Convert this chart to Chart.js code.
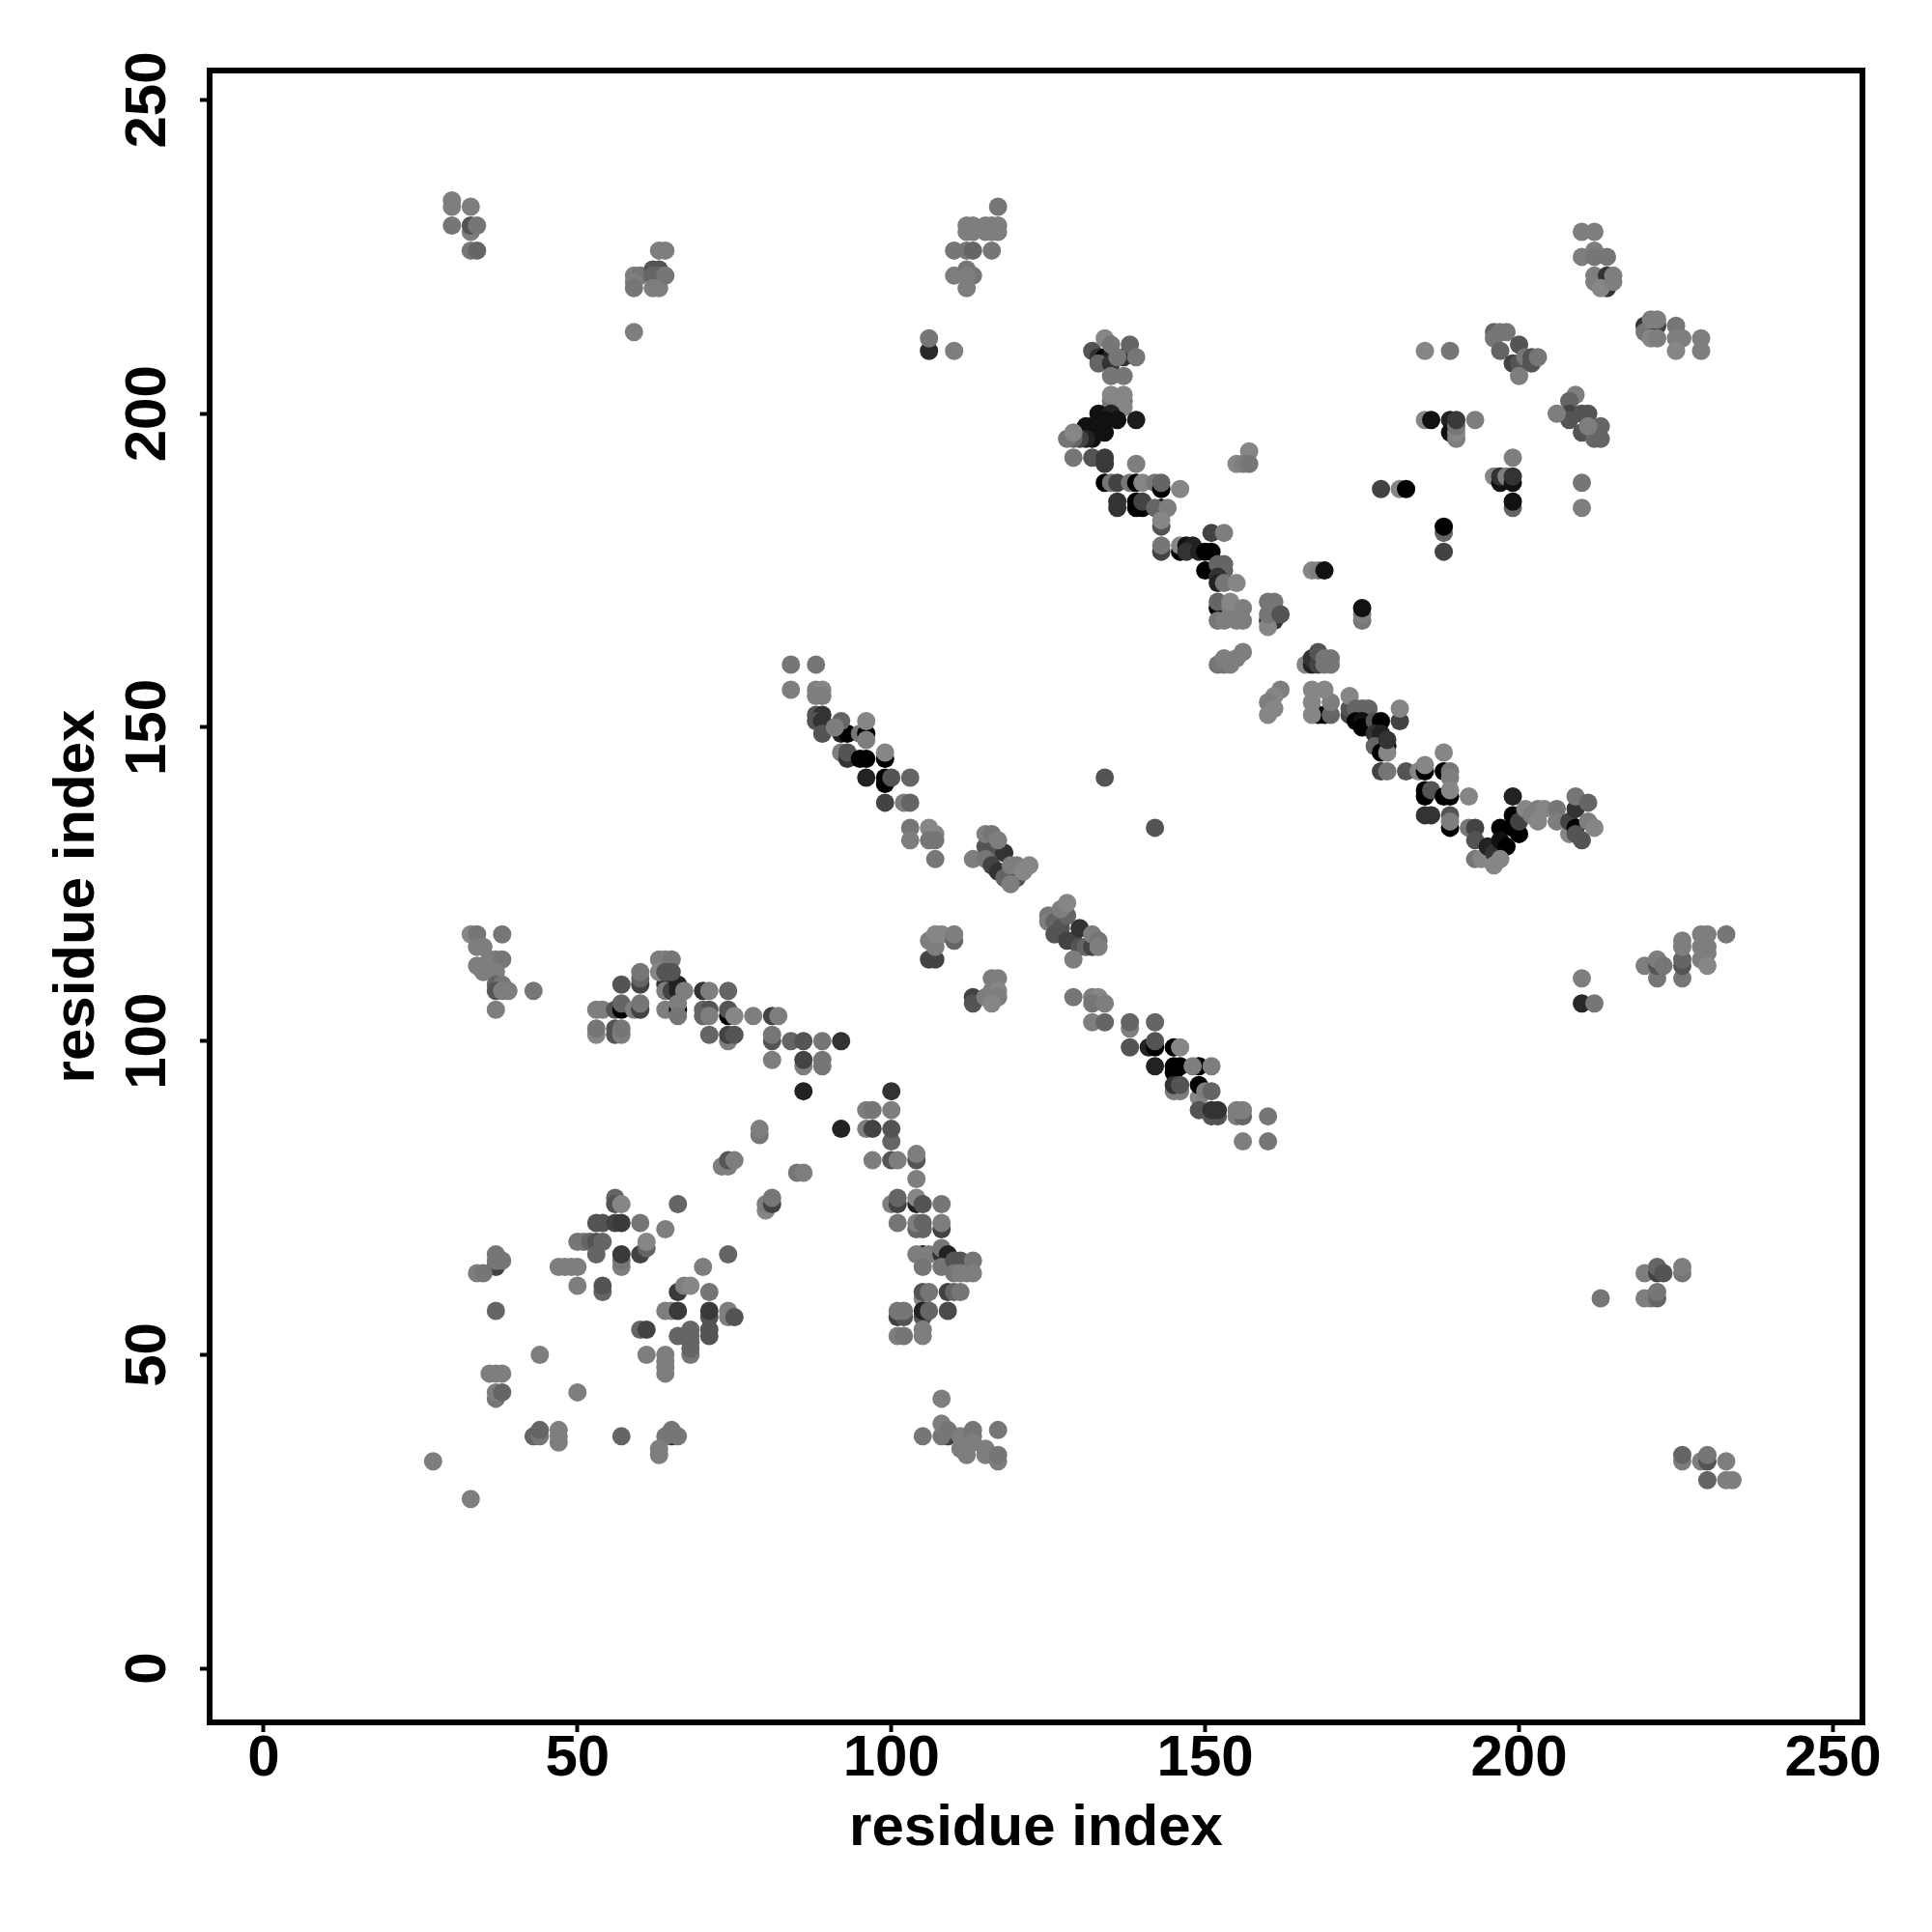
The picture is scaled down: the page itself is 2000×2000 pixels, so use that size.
<!DOCTYPE html>
<html>
<head>
<meta charset="utf-8">
<title>residue contacts</title>
<script src="https://cdn.jsdelivr.net/npm/chart.js@4"></script>
<style>
  html, body { margin: 0; padding: 0; background: #fff; }
  canvas { display: block; }
</style>
</head>
<body>
<canvas id="chart" width="2000" height="2000"></canvas>
<script>
// every contact is [residue x, residue y, strength 0-100]
const tickValues = [0, 50, 100, 150, 200, 250];
const axisTitle = 'residue index';

const topLeftContacts = [
  [30,234,6],[30,233,6],[33,233,6],[30,230,12],[33,229,6],[33,230,37],[34,230,12],[33,226,12],[34,226,25],
  [63,226,6],[64,226,6],[59,222,6],[60,222,12],[59,221,6],[59,220,12],[62,223,37],[63,223,37],[62,222,25],
  [63,222,25],[62,220,6],[63,220,6],[64,222,12],[59,213,6],
  [106,210,70],[106,212,12],[110,210,6],
  [117,233,12],[112,230,6],[113,230,6],[115,230,6],[116,230,6],[117,230,6],[112,229,6],[113,229,6],
  [115,229,6],[116,229,6],[117,229,6],[110,226,12],[112,226,12],[113,226,25],[116,226,12],[110,222,6],
  [112,223,12],[113,222,12],[112,222,6],[112,220,6]
];

const upperBandContacts = [
  [132,210,37],[133,209,62],[134,209,100],[135,209,75],[137,209,62],[133,208,25],[135,208,62],
  [134,212,0],[135,211,12],[138,211,25],[136,209,12],[139,209,12],[135,206,12],[137,206,12],
  [135,201,12],[137,202,12],[135,202,12],[135,203,0],[137,203,0],[137,201,0],
  [133,200,87],[135,200,75],[134,199,87],[136,199,87],[139,199,80],[131,198,87],[132,198,87],[133,198,87],
  [134,197,87],[132,196,87],[131,196,75],[130,196,50],[129,196,25],[128,196,12],[129,197,0],
  [129,193,12],[132,193,37],[134,193,57],[134,192,57],[139,192,6],
  [134,189,100],[135,189,12],[136,189,50],[138,189,12],[139,189,100],[140,189,0],[142,189,12],[143,188,100],
  [143,189,25],[146,188,0],
  [136,186,62],[136,185,62],[139,186,100],[139,185,100],[140,185,100],[140,186,50],[143,185,100],[142,185,25],[144,185,6],
  [143,182,37],[143,183,0],[143,178,50],[143,179,12],[146,178,100],[146,179,0],[147,179,87],[148,179,75],
  [147,178,62],[149,178,75],[150,178,100],[151,178,100],[150,175,100],[151,181,50],[153,181,6],
  [152,176,25],[153,176,25],[153,175,25],[152,174,62],[152,173,75],[153,173,12],[155,173,0],
  [152,169,100],[152,170,25],[154,169,6],[154,170,0],[156,169,6],[152,167,12],[153,167,6],[155,167,6],[156,167,6],
  [160,167,62],[161,167,62],[160,166,0],[160,170,12],[161,170,12],[160,168,12],[162,168,37],
  [157,194,0],[155,192,0],[156,192,6],[157,192,12],
  [167,175,0],[168,175,6],[169,175,87],[175,167,12],[175,168,6],[175,169,87],
  [178,188,50],[181,188,0],[182,188,100],[188,178,50],[188,181,25],[188,182,100],
  [185,210,0],[189,210,12],
  [185,199,0],[186,199,87],[189,199,75],[189,197,87],[190,196,6],[190,197,0],[190,198,12],[190,199,57],[193,199,6]
];

const middleBandContacts = [
  [152,160,12],[153,160,12],[154,160,6],[153,161,6],[155,161,6],[156,162,6],
  [166,160,0],[167,160,75],[167,161,62],[168,160,50],[168,162,37],[169,161,12],[170,161,12],[169,160,12],[170,160,12],
  [162,156,6],[161,155,0],[160,154,6],[161,153,0],[160,152,0],
  [168,152,100],[169,152,100],[167,152,0],[170,152,25],[167,154,0],[170,154,6],[167,156,0],[169,156,0],
  [173,152,50],[173,153,37],[173,155,0],[174,153,25],[175,153,25],[176,153,25],[174,151,100],[175,151,87],[175,150,100],
  [177,151,37],[178,151,100],[181,151,50],[181,153,0],
  [177,149,62],[178,149,75],[177,147,25],[179,147,100],[178,146,100],[179,146,0],[179,148,62],
  [178,143,50],[179,143,12],[182,143,37],[184,143,0],[185,143,100],[185,144,0],[188,146,0],
  [188,143,100],[189,143,12],[189,142,6],[185,140,100],[185,139,100],[186,140,37],[188,139,100],
  [189,139,100],[189,140,0],[192,139,0],[185,136,62],[186,136,62],[189,136,37],[189,134,100],[189,135,6],
  [192,134,12],[193,134,50],[193,132,37],[193,129,12],[194,129,0],
  [195,131,75],[196,130,62],[197,134,100],[197,132,87],[198,131,100],[199,134,100],[199,136,100],[200,133,100],
  [199,139,75],[200,135,50],[196,128,0],[197,129,0],
  [201,137,0],[202,136,6],[203,137,6],[204,137,0],[203,135,0],
  [206,137,12],[206,135,6],[208,133,0],[208,135,50],[209,137,62],[209,134,100],[209,133,37],[209,139,12],
  [210,132,37],[211,138,25],[211,135,6],[212,134,0]
];

const upperRightContacts = [
  [210,229,6],[212,229,6],[210,225,6],[212,226,6],[212,225,12],[214,225,12],
  [212,222,6],[212,221,6],[213,221,6],[214,222,62],[214,220,62],[213,220,0],[215,221,6],[215,222,6],
  [220,214,62],[220,213,12],[222,214,50],[221,215,6],[222,215,6],[221,212,0],[222,212,6],
  [225,214,12],[225,212,6],[226,212,6],[225,210,0],[229,212,6],[229,210,6],
  [196,213,25],[197,213,12],[198,213,12],[196,212,12],[197,210,25],[200,211,37],[199,208,50],[200,208,37],
  [200,206,6],[201,209,12],[202,209,37],[202,208,37],[203,209,12],
  [209,203,6],[208,202,25],[208,200,50],[208,199,37],[206,200,6],[210,200,37],[211,200,37],[210,197,37],
  [212,197,25],[212,196,25],[213,196,25],[213,198,25],[211,198,6],
  [199,193,6],[196,190,0],[197,189,87],[197,190,62],[198,190,6],[199,189,87],[199,190,62],
  [199,185,25],[199,186,87],[210,189,12],[210,185,6]
];

const lowerBandContacts = [
  [84,160,12],[88,160,12],[84,156,6],[88,156,6],[89,156,0],[88,155,6],[89,155,6],
  [88,152,37],[89,152,62],[88,151,37],[89,151,62],[89,149,37],
  [92,149,75],[93,149,100],[92,151,25],[91,150,6],[95,149,12],[96,149,100],[96,148,6],[96,151,0],
  [92,146,6],[93,145,62],[93,146,37],[95,145,100],[96,145,100],[99,145,100],[99,146,0],
  [96,142,75],[99,141,100],[99,142,100],[100,142,37],[103,142,25],
  [99,138,50],[102,138,6],[103,138,25],[103,134,12],[103,132,6],[106,134,0],[107,133,0],[106,132,12],[107,132,12],[107,129,12],
  [113,129,6],[115,131,37],[116,130,37],[115,129,12],[116,128,50],[117,127,62],[118,130,62],[118,126,25],[120,126,37],
  [119,125,6],[115,133,6],[116,133,12],[117,132,6],[119,128,6],[120,128,6],[121,127,0],[122,128,0],
  [125,120,12],[125,119,6],[126,119,25],[126,117,37],[127,118,37],[128,116,50],[129,116,50],[130,115,37],[131,115,25],
  [132,115,50],[130,118,62],[128,120,25],[127,121,6],[128,122,0],[129,113,6],[132,117,6],[133,116,12],[133,115,6],
  [134,142,37],[142,134,37],
  [106,113,50],[107,113,50],[106,116,6],[107,115,6],[107,117,0],[108,117,0],[110,116,25],[110,117,6],
  [113,107,50],[113,106,37],[116,110,6],[117,110,6],[116,108,6],[117,108,0],[115,107,6],[117,107,6],[116,106,0],
  [129,107,12],[132,107,6],[133,107,0],[132,106,12],[134,106,6],[132,103,6],[134,103,25],
  [138,102,6],[138,103,25],[142,103,25],
  [138,99,37],[141,99,75],[142,99,100],[142,100,37],[145,99,100],[146,99,0],
  [142,96,75],[145,95,100],[145,96,100],[146,96,100],[149,96,100],[148,96,6],[151,96,6],
  [145,92,6],[146,92,6],[145,93,62],[146,93,37],[149,91,0],[149,93,100],[150,92,6],[151,92,25],
  [149,89,37],[151,88,37],[152,88,37],[151,89,62],[152,89,62],[155,88,6],[156,88,25],[155,89,6],[156,89,6],
  [160,88,12],[156,84,6],[160,84,12]
];

const middleLeftContacts = [
  [33,117,0],[34,117,12],[38,117,12],[34,115,6],[35,115,6],[34,112,6],[35,111,6],[36,113,6],[37,113,6],[38,113,12],[37,111,6],
  [37,109,25],[38,109,12],[37,108,37],[38,108,6],[39,108,6],[43,108,12],[37,105,6],
  [53,105,6],[54,105,6],[56,105,37],[57,105,100],[57,106,25],[59,105,6],[60,105,50],[60,106,12],
  [57,109,37],[60,109,50],[60,110,25],[60,111,12],
  [53,101,0],[53,102,12],[56,101,37],[56,102,37],[57,101,6],[57,102,12],
  [64,109,62],[64,108,6],[65,108,50],[66,108,75],[66,109,75],[67,108,6],
  [63,113,6],[64,113,6],[65,113,12],[63,111,0],[64,111,37],[65,111,37],
  [64,105,6],[66,105,100],[66,106,6],[66,104,12],
  [70,108,62],[71,108,6],[74,108,25],[70,105,25],[71,105,37],[70,104,25],[71,104,6],[74,104,100],[74,105,37],[75,104,0],
  [71,101,25],[74,100,6],[74,101,50],[75,101,37],
  [78,104,6],[81,104,50],[82,104,6],[81,100,37],[81,101,12],[84,100,25],[86,100,37],[89,100,12],[92,100,62],
  [81,97,6],[86,96,6],[86,97,50],[89,96,12],[89,97,12],[86,92,75],[92,86,75]
];

const lowerLeftContacts = [
  [79,85,12],[79,86,6],[73,80,6],[74,80,6],[74,81,37],[75,81,6],[85,79,12],[86,79,6],
  [56,75,25],[56,74,37],[57,74,0],[66,74,25],[80,73,0],[80,74,6],[81,74,50],[81,75,12],
  [53,71,37],[54,71,37],[56,71,50],[57,71,57],[60,71,12],[64,70,6],
  [50,68,12],[51,68,12],[52,68,25],[53,68,37],[54,68,25],[53,66,25],[57,64,6],[57,65,12],[57,66,57],
  [60,66,50],[61,67,25],[61,68,0],[74,66,25],[70,64,6],
  [47,64,6],[48,64,6],[49,64,6],[50,64,6],[50,61,6],[54,60,25],[54,61,37],
  [37,64,50],[37,65,12],[37,66,12],[38,65,12],[34,63,6],[35,63,12],[37,57,25],
  [66,60,57],[67,61,6],[68,61,0],[71,60,12],
  [64,57,6],[65,57,6],[66,57,57],[71,56,37],[71,57,57],[74,57,6],[74,56,6],[75,56,37],
  [60,54,25],[61,54,50],[66,53,25],[68,50,12],[68,51,25],[68,52,25],[68,53,25],[68,54,25],[71,53,37],[71,54,37],
  [61,50,6],[64,47,6],[64,48,6],[64,49,6],[64,50,6],[44,50,6],
  [36,47,6],[37,47,6],[38,47,6],[37,43,12],[37,44,6],[38,44,25],[50,44,6],
  [43,37,25],[44,37,12],[44,38,25],[47,36,6],[47,37,6],[47,38,6],[57,37,25],
  [65,37,62],[64,37,12],[66,37,12],[65,38,12],[63,34,6],[63,35,6],[27,33,6],[33,27,6]
];

const lowerMiddleContacts = [
  [100,92,62],[96,89,6],[97,89,12],[100,89,6],[96,86,6],[97,86,50],[100,84,25],[100,86,37],
  [97,81,6],[100,81,37],[101,81,6],[104,81,37],[104,82,6],[104,78,6],
  [100,74,6],[101,74,50],[101,75,25],[104,74,75],[104,75,0],[105,74,37],[108,74,12],
  [101,71,12],[104,70,25],[105,70,25],[104,71,6],[105,71,25],[108,70,50],[108,71,6],
  [105,66,75],[104,66,6],[106,66,6],[105,64,12],[108,66,62],[108,67,12],[109,66,75],[108,64,12],
  [110,65,37],[111,65,37],[110,63,12],[111,63,6],[112,63,6],[113,65,12],[113,63,6],
  [105,59,0],[105,60,37],[106,60,12],[109,60,50],[110,60,25],[111,60,12],
  [101,56,50],[102,56,37],[101,57,12],[102,57,12],[105,56,37],[105,57,75],[106,57,25],[109,57,45],
  [101,53,6],[102,53,12],[105,53,6],[105,54,6],
  [108,43,6],[105,37,12],[109,37,50],[108,37,12],[108,39,6],[109,38,12],[111,37,6],[113,37,12],[113,38,12],[113,36,6],
  [117,38,12],[111,35,6],[112,34,6],[115,35,6],[115,34,6],[117,33,6],[117,34,12]
];

const rightColumnContacts = [
  [210,110,6],[210,106,70],[212,106,12],
  [220,112,6],[222,110,12],[222,112,37],[222,113,6],[223,112,12],
  [226,110,12],[226,112,37],[226,113,25],[226,115,6],[226,116,6],
  [229,117,6],[230,117,6],[229,115,6],[230,115,6],[230,114,6],[229,113,6],[230,112,0],[233,117,12],
  [220,59,6],[221,59,6],[222,59,25],[222,60,12],[220,63,6],[222,63,50],[222,64,25],[223,63,37],
  [226,63,12],[226,64,6],[213,59,12],
  [226,33,6],[226,34,25],[229,33,6],[230,33,37],[230,34,12],[233,33,6],[230,30,25],[233,30,6],[234,30,6]
];

const contacts = [].concat(
  topLeftContacts, upperBandContacts, middleBandContacts, upperRightContacts,
  lowerBandContacts, middleLeftContacts, lowerLeftContacts, lowerMiddleContacts, rightColumnContacts
);

function strengthToGrey(s) {
  const g = Math.round(134 - 1.34 * s);
  return `rgb(${g},${g},${g})`;
}

// frame and the rotated y tick labels
const framePlugin = {
  id: 'frame',
  afterDatasetsDraw(chart) {
    const { ctx, chartArea: a, scales } = chart;
    ctx.save();
    ctx.strokeStyle = '#000';
    ctx.lineWidth = 6;
    ctx.strokeRect(a.left, a.top, a.right - a.left, a.bottom - a.top);
    ctx.fillStyle = '#000';
    ctx.font = 'bold 60px "Liberation Sans"';
    ctx.textAlign = 'center';
    ctx.textBaseline = 'alphabetic';
    tickValues.forEach(v => {
      ctx.save();
      ctx.translate(171, scales.y.getPixelForValue(v));
      ctx.rotate(-Math.PI / 2);
      ctx.fillText(String(v), 0, 0);
      ctx.restore();
    });
    ctx.restore();
  }
};

const axisBase = {
  type: 'linear',
  min: -8.6,
  max: 254.7,
  afterBuildTicks: scale => { scale.ticks = tickValues.map(v => ({ value: v })); },
  border: { display: false },
  grid: { drawOnChartArea: false, tickLength: 10, tickWidth: 4, tickColor: '#000' }
};

new Chart(document.getElementById('chart'), {
  type: 'scatter',
  data: {
    datasets: [{
      data: contacts.map(c => ({ x: c[0], y: c[1] })),
      pointRadius: 9.5,
      pointHoverRadius: 9.5,
      pointBorderWidth: 0,
      pointBackgroundColor: contacts.map(c => strengthToGrey(c[2]))
    }]
  },
  options: {
    responsive: false,
    animation: false,
    devicePixelRatio: 1,
    layout: { padding: { left: 0, top: 73, right: 72, bottom: 0 } },
    plugins: { legend: { display: false }, tooltip: { enabled: false } },
    scales: {
      x: {
        ...axisBase,
        afterFit: scale => { scale.height = 217; },
        ticks: {
          color: '#000',
          padding: -2,
          maxRotation: 0,
          minRotation: 0,
          autoSkip: false,
          font: { family: 'Liberation Sans', weight: 'bold', size: 60, lineHeight: 1 }
        },
        title: {
          display: true,
          text: axisTitle,
          color: '#000',
          padding: { top: 0, bottom: 71 },
          font: { family: 'Liberation Sans', weight: 'bold', size: 60, lineHeight: 1.2 }
        }
      },
      y: {
        ...axisBase,
        afterFit: scale => { scale.width = 217; },
        ticks: { display: false },
        title: {
          display: true,
          text: axisTitle,
          color: '#000',
          padding: { top: 44, bottom: 0 },
          font: { family: 'Liberation Sans', weight: 'bold', size: 60, lineHeight: 1.2 }
        }
      }
    }
  },
  plugins: [framePlugin]
});
</script>
</body>
</html>
